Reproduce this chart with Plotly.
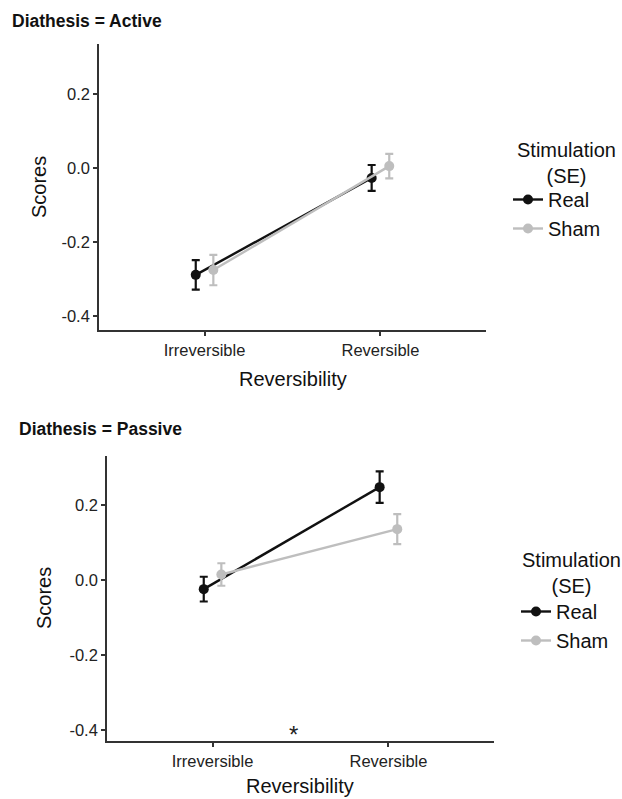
import plotly.graph_objects as go

# ---- data ----
categories = ["Irreversible", "Reversible"]
active_real = [-0.289, -0.027]
active_real_se = [0.040, 0.035]
active_sham = [-0.276, 0.005]
active_sham_se = [0.041, 0.033]
passive_real = [-0.024, 0.248]
passive_real_se = [0.033, 0.042]
passive_sham = [0.015, 0.136]
passive_sham_se = [0.030, 0.040]
ytick_vals = [-0.4, -0.2, 0.0, 0.2]
ytick_text = ["-0.4", "-0.2", "0.0", "0.2"]
groups = ["Real", "Sham"]
legend_title = "Stimulation<br>(SE)"

W, H = 622, 799
FONT = "Liberation Sans, Arial, sans-serif"
REAL_C = "#111111"
SHAM_C = "#bebebe"
DODGE = 0.05
AX_C = "#333333"

base_x = [i + 1 for i in range(len(categories))]


def px(x):
    return x / W


def py(y):
    return 1 - y / H


fig = go.Figure()

panels = [
    (active_real, active_real_se, active_sham, active_sham_se, "x", "y", "legend"),
    (passive_real, passive_real_se, passive_sham, passive_sham_se, "x2", "y2", "legend2"),
]

for real, real_se, sham, sham_se, xa, ya, lg in panels:
    for name, vals, se, col, off in [
        (groups[0], real, real_se, REAL_C, -DODGE),
        (groups[1], sham, sham_se, SHAM_C, DODGE),
    ]:
        fig.add_trace(go.Scatter(
            x=[b + off for b in base_x], y=vals, name=name,
            mode="lines+markers",
            line=dict(color=col, width=2.4),
            marker=dict(color=col, size=10),
            error_y=dict(type="data", array=se, color=col, thickness=2.2, width=4),
            xaxis=xa, yaxis=ya, legend=lg, showlegend=True,
        ))

tickfont = dict(family=FONT, size=16.5, color="#222222")
common_x = dict(range=[0.4, 2.6], tickvals=base_x, ticktext=categories,
                showline=True, linecolor=AX_C, linewidth=1.6, ticks="outside",
                ticklen=4, tickwidth=1.5, tickcolor=AX_C, showgrid=False,
                zeroline=False, tickfont=tickfont, fixedrange=True)
common_y = dict(tickvals=ytick_vals, ticktext=ytick_text,
                showline=True, linecolor=AX_C, linewidth=1.6, ticks="outside",
                ticklen=4, tickwidth=1.5, tickcolor=AX_C, showgrid=False,
                zeroline=False, tickfont=tickfont, fixedrange=True)

legend_common = dict(
    font=dict(family=FONT, size=20, color="#111111"),
    xanchor="left", yanchor="top", bgcolor="rgba(0,0,0,0)",
    itemclick=False, itemdoubleclick=False,
)

fig.update_layout(
    width=W, height=H,
    margin=dict(l=0, r=0, t=0, b=0),
    paper_bgcolor="white", plot_bgcolor="white",
    font=dict(family=FONT, color="#111111"),
    xaxis=dict(domain=[px(99), px(486)], anchor="y", **common_x),
    yaxis=dict(domain=[py(330), py(44)], anchor="x", range=[-0.438, 0.335], **common_y),
    xaxis2=dict(domain=[px(107), px(494)], anchor="y2", **common_x),
    yaxis2=dict(domain=[py(741), py(456)], anchor="x2", range=[-0.429, 0.331], **common_y),
    legend=dict(x=px(508), y=py(180), **legend_common),
    legend2=dict(x=px(516), y=py(592), **legend_common),
)

ann_font = dict(family=FONT, size=20, color="#111111")
title_font = dict(family=FONT, size=17.5, color="#111111")
annotations = [
    dict(text="<b>Diathesis = Active</b>", x=px(10), y=py(21), xanchor="left", yanchor="middle",
         font=title_font),
    dict(text="<b>Diathesis = Passive</b>", x=px(17), y=py(429), xanchor="left", yanchor="middle",
         font=title_font),
    dict(text="Scores", x=px(39), y=py(187), textangle=-90, xanchor="center", yanchor="middle", font=ann_font),
    dict(text="Scores", x=px(44), y=py(598), textangle=-90, xanchor="center", yanchor="middle", font=ann_font),
    dict(text="Reversibility", x=px(293), y=py(379), xanchor="center", yanchor="middle", font=ann_font),
    dict(text="Reversibility", x=px(300), y=py(786), xanchor="center", yanchor="middle", font=ann_font),
    dict(text=legend_title, x=px(566), y=py(163), xanchor="center", yanchor="middle", align="center",
         font=ann_font),
    dict(text=legend_title, x=px(571), y=py(573), xanchor="center", yanchor="middle", align="center",
         font=ann_font),
]
for a in annotations:
    a.update(xref="paper", yref="paper", showarrow=False)
fig.update_layout(annotations=annotations)

fig.add_annotation(text="*", x=1.46, y=-0.412, xref="x2", yref="y2", showarrow=False,
                   xanchor="center", yanchor="middle",
                   font=dict(family=FONT, size=24, color="#222222"))

fig.write_html("out.html")
